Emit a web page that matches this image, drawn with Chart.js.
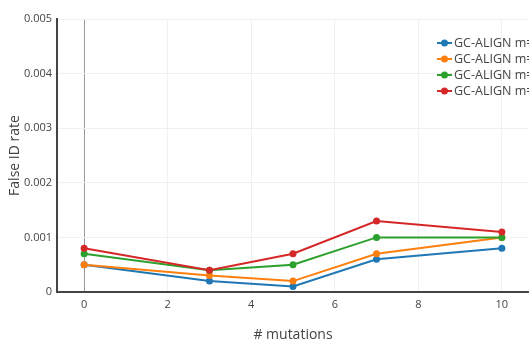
<!DOCTYPE html>
<html>
<head>
<meta charset="utf-8">
<script src="https://cdn.jsdelivr.net/npm/chart.js@4/dist/chart.umd.min.js"></script>
<style>
  html, body { margin: 0; padding: 0; background: #fff; }
  #wrap { width: 529px; height: 342px; }
</style>
</head>
<body>
<div id="wrap"><canvas id="fdr"></canvas></div>
<script>
const mutations = [0, 3, 5, 7, 10];
const m3 = [0.0005, 0.0002, 0.0001, 0.0006, 0.0008];
const m1 = [0.0005, 0.0003, 0.0002, 0.0007, 0.0010];
const m2 = [0.0007, 0.0004, 0.0005, 0.0010, 0.0010];
const m4 = [0.0008, 0.0004, 0.0007, 0.0013, 0.0011];
const seriesNames = ['GC-ALIGN m=3', 'GC-ALIGN m=1', 'GC-ALIGN m=2', 'GC-ALIGN m=4'];
const xTicks = [0, 2, 4, 6, 8, 10];
const colors = ['#1f77b4', '#ff7f0e', '#2ca02c', '#d62728'];

const font = "'Open Sans', sans-serif";

function toPoints(ys) {
  return mutations.map((x, i) => ({ x: x, y: ys[i] }));
}

const datasets = [m3, m1, m2, m4].map((ys, i) => ({
  label: seriesNames[i],
  data: toPoints(ys),
  borderColor: colors[i],
  backgroundColor: colors[i],
  borderWidth: 2,
  pointRadius: 3.5,
  pointBorderWidth: 0,
  tension: 0,
  order: 4 - i,
  clip: false
}));

// legend box in the top right, runs past the canvas edge like the original
const sideLegend = {
  id: 'sideLegend',
  afterDraw(chart) {
    const c = chart.ctx;
    c.save();
    c.font = '12.5px ' + font;
    c.textBaseline = 'middle';
    seriesNames.forEach((name, i) => {
      const y = 43 + i * 16;
      c.strokeStyle = colors[i];
      c.lineWidth = 2;
      c.beginPath();
      c.moveTo(437, y);
      c.lineTo(452, y);
      c.stroke();
      c.fillStyle = colors[i];
      c.beginPath();
      c.arc(444.5, y, 3.5, 0, Math.PI * 2);
      c.fill();
      c.fillStyle = '#444';
      c.fillText(name, 454, y + 0.5);
    });
    c.restore();
  }
};

new Chart(document.getElementById('fdr'), {
  type: 'line',
  data: { datasets: datasets },
  plugins: [sideLegend],
  options: {
    responsive: true,
    maintainAspectRatio: false,
    animation: false,
    layout: { autoPadding: false, padding: { top: 19, right: 0, left: 0, bottom: 0 } },
    plugins: {
      legend: { display: false },
      tooltip: { enabled: false }
    },
    scales: {
      x: {
        type: 'linear',
        min: -0.65,
        max: 10.65,
        afterBuildTicks: s => { s.ticks = xTicks.map(v => ({ value: v })); },
        afterFit: s => { s.height = 50; s.paddingRight = 0; s.paddingLeft = 0; },
        grid: {
          color: ctx => ctx.tick && ctx.tick.value === 0 ? '#999' : '#f0f0f0',
          lineWidth: 1,
          drawTicks: false
        },
        border: { color: '#444', width: 2 },
        ticks: { color: '#444', font: { family: font, size: 11 }, padding: 6 },
        title: {
          display: true,
          text: '# mutations',
          color: '#444',
          font: { family: font, size: 14, lineHeight: 1 },
          padding: { top: 0, bottom: 0 }
        }
      },
      y: {
        min: 0,
        max: 0.005,
        afterFit: s => { s.width = 57; },
        grid: { color: '#f0f0f0', lineWidth: 1, drawTicks: false },
        border: { color: '#444', width: 2 },
        ticks: {
          stepSize: 0.001,
          color: '#444',
          font: { family: font, size: 11 },
          padding: 5,
          callback: v => v === 0 ? '0' : v.toFixed(3)
        },
        title: {
          display: true,
          text: 'False ID rate',
          color: '#444',
          font: { family: font, size: 14 },
          padding: { top: 7, bottom: 0 }
        }
      }
    }
  }
});
</script>
</body>
</html>
